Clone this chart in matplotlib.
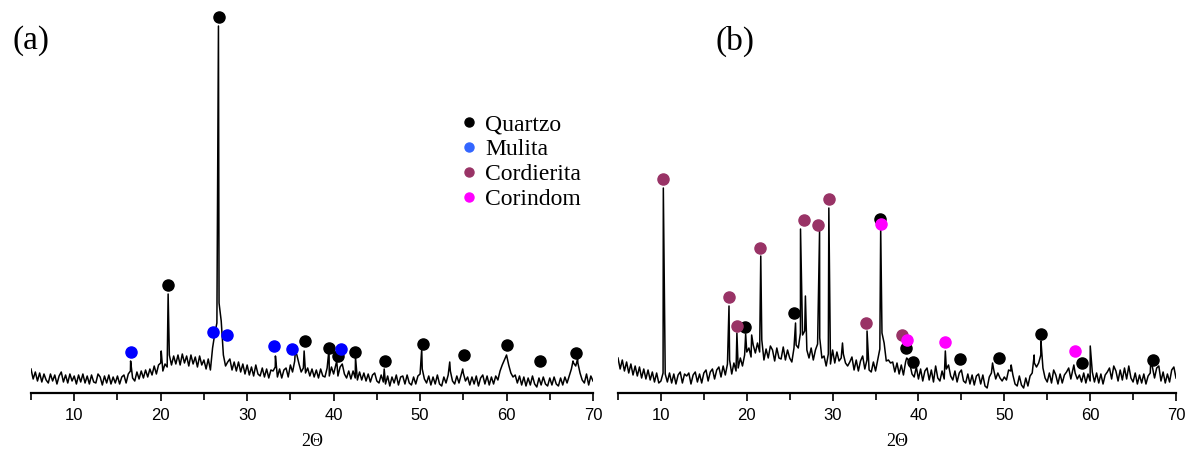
"""XRD patterns (a) and (b) with phase markers."""

import numpy as np
import matplotlib.pyplot as plt
from matplotlib.lines import Line2D
from matplotlib.ticker import MultipleLocator

# scan grid: 2theta from 5 to 70 in 0.25 deg steps, background counts
scan_start, scan_step = 5.0, 0.25

background_a = [
    24, 14, 21, 12,  20, 11, 19, 13,  10, 19, 12, 18,  9, 17, 21, 11,  18, 10, 19, 12,
    17, 9, 18, 11,  19, 10, 17, 9,  18, 11, 10, 19,  16, 8, 17, 10,  18, 9, 16, 10,
    17, 9, 16, 18,  10, 19, 22, 15,  12, 21, 14, 22,  15, 23, 16, 24,  18, 27, 19, 28,
    30, 22, 29, 26,  38, 28, 37, 29,  38, 28, 39, 30,  37, 27, 38, 29,  36, 26, 37, 28,
    33, 24, 34, 23,  45, 59, 70, 90,  72, 38, 27, 31,  34, 23, 31, 22,  31, 21, 29, 19,
    28, 18, 26, 17,  28, 19, 17, 25,  16, 24, 15, 23,  22, 26, 16, 24,  15, 23, 25, 16,
    28, 21, 32, 38,  29, 21, 25, 20,  25, 17, 24, 16,  23, 15, 24, 17,  16, 25, 17, 26,
    19, 28, 17, 26,  29, 19, 15, 22,  14, 22, 15, 13,  21, 13, 20, 12,  19, 11, 18, 20,
    12, 10, 18, 11,  9, 17, 7, 16,  10, 18, 8, 16,  17, 9, 18, 10,  8, 16, 9, 17,
    19, 24, 14, 10,  17, 8, 16, 9,  18, 9, 7, 16,  10, 18, 22, 12,  9, 17, 10, 18,
    20, 12, 16, 8,  16, 9, 17, 7,  15, 18, 9, 17,  8, 16, 9, 17,  13, 22, 28, 33,
    38, 28, 20, 16,  18, 10, 17, 8,  16, 7, 15, 8,  17, 9, 6, 15,  8, 16, 9, 7,
    15, 8, 16, 9,  7, 15, 8, 16,  10, 17, 24, 30,  27, 30, 20, 13,  10, 19, 8, 17,
    12,
]
peak_pos_a = [16.52, 20.06, 20.86, 26.68, 33.27, 35.57, 36.59, 39.47, 40.36, 42.53,
              45.85, 50.19, 53.43, 54.93, 59.94, 67.69, 68.22]
peak_int_a = [32, 42, 99, 367, 37, 42, 42, 44, 32, 36, 24, 44, 31, 24, 37, 32, 34]

background_b = [
    35, 24, 33, 22,  31, 20, 29, 18,  27, 17, 26, 15,  24, 14, 23, 13,  21, 11, 20, 10,
    12, 20, 19, 11,  20, 10, 19, 9,  18, 21, 10, 19,  17, 20, 9, 18,  21, 11, 19, 10,
    20, 23, 12, 21,  24, 14, 23, 26,  16, 27, 18, 29,  33, 19, 30, 22,  25, 35, 27, 38,
    41, 45, 36, 48,  40, 50, 41, 53,  33, 44, 35, 47,  43, 32, 45, 35,  34, 46, 33, 43,
    35, 31, 45, 48,  45, 60, 58, 62,  43, 35, 45, 33,  43, 49, 55, 35,  37, 27, 39, 29,
    43, 30, 41, 32,  35, 39, 30, 27,  31, 36, 23, 33,  22, 32, 37, 24,  33, 23, 21, 31,
    22, 33, 44, 60,  50, 32, 33, 30,  31, 21, 30, 19,  28, 18, 31, 34,  29, 19, 16, 26,
    14, 24, 12, 22,  25, 13, 23, 11,  27, 15, 12, 22,  14, 24, 28, 17,  13, 22, 11, 20,
    23, 12, 10, 19,  9, 18, 8, 17,  19, 9, 18, 7,  5, 16, 20, 24,  14, 20, 15, 12,
    16, 13, 23, 22,  18, 9, 7, 17,  8, 5, 15, 7,  17, 20, 30, 26,  30, 38, 25, 15,
    11, 20, 10, 23,  18, 9, 19, 10,  18, 21, 25, 14,  24, 20, 14, 18,  11, 20, 10, 19,
    12, 21, 11, 20,  10, 19, 9, 18,  21, 25, 14, 27,  22, 12, 23, 13,  25, 14, 27, 15,
    11, 20, 9, 18,  10, 19, 9, 17,  20, 26, 15, 25,  27, 12, 21, 10,  19, 11, 23, 26,
    15,
]
peak_pos_b = [10.28, 17.93, 18.85, 19.87, 20.57, 21.63, 25.68, 26.26, 26.83, 28.48,
              29.56, 31.15, 34.01, 35.60, 38.63, 43.13, 48.63, 50.80, 53.48, 54.27,
              58.10, 60.01, 67.05]
peak_int_b = [205, 87, 60, 59, 58, 137, 70, 164, 97, 162,
              185, 50, 62, 165, 35, 42, 30, 28, 38, 52,
              28, 47, 30]

# phase markers (2theta, height)
quartzo_a_x = [20.86, 26.75, 36.72, 39.47, 40.53, 42.53, 45.94, 50.33, 55.07, 60.03, 63.88, 68.05]
quartzo_a_y = [108, 376, 52, 45, 37, 41, 32, 49, 38, 48, 32, 40]
mulita_a_x = [16.52, 26.05, 27.68, 33.05, 35.13, 40.80]
mulita_a_y = [41, 61, 58, 47, 44, 44]

cordierita_b_x = [10.26, 17.89, 18.81, 21.54, 26.65, 28.28, 29.56, 33.88, 38.06]
cordierita_b_y = [214, 96, 67, 145, 173, 168, 194, 70, 58]
quartzo_b_x = [19.82, 25.51, 35.47, 38.55, 39.34, 44.80, 49.43, 54.23, 59.08, 67.36]
quartzo_b_y = [66, 80, 174, 45, 31, 34, 35, 59, 30, 33]
corindom_b_x = [35.60, 38.63, 43.13, 58.20]
corindom_b_y = [169, 53, 51, 42]

legend_labels = ["Quartzo", "Mulita", "Cordierita", "Corindom"]
legend_colors = ["#000000", "#3366ff", "#993366", "#ff00ff"]


def build_trace(background, peak_pos, peak_int):
    x = list(scan_start + scan_step * np.arange(len(background)))
    y = list(background)
    x += peak_pos
    y += peak_int
    order = np.argsort(x, kind="stable")
    return np.asarray(x)[order], np.asarray(y)[order]


def style_axis(ax):
    ax.set_xlim(5, 70)
    ax.set_ylim(0, 393)
    for side in ("left", "right", "top"):
        ax.spines[side].set_visible(False)
    ax.spines["bottom"].set_linewidth(1.6)
    ax.set_yticks([])
    ax.xaxis.set_major_locator(MultipleLocator(10))
    ax.xaxis.set_minor_locator(MultipleLocator(5))
    ax.tick_params(axis="x", which="major", direction="out", length=6, width=1.2,
                   labelsize=12, pad=5)
    ax.tick_params(axis="x", which="minor", direction="out", length=5, width=1.2)
    for lab in ax.get_xticklabels():
        lab.set_family("Liberation Sans")
    ax.set_xlabel("2\u0398", family="Liberation Serif", fontsize=13, labelpad=7)


fig = plt.figure(figsize=(11.92, 4.5), dpi=100)
ax_a = fig.add_axes([31 / 1192, 57 / 450, 562 / 1192, 393 / 450])
ax_b = fig.add_axes([618 / 1192, 57 / 450, 558 / 1192, 393 / 450])

ms = 8
xa, ya = build_trace(background_a, peak_pos_a, peak_int_a)
ax_a.plot(xa, ya, color="black", lw=1.1)
ax_a.plot(quartzo_a_x, quartzo_a_y, "o", color="black", ms=ms, clip_on=False)
ax_a.plot(mulita_a_x, mulita_a_y, "o", color="#0000ff", ms=ms)
style_axis(ax_a)

handles = [Line2D([], [], ls="none", marker="o", color=c, ms=6.5) for c in legend_colors]
ax_a.legend(handles, legend_labels, loc="upper left", bbox_to_anchor=(0.745, 0.74),
            frameon=False, borderpad=0, handlelength=0.6, handletextpad=0.4,
            labelspacing=0.14, prop={"family": "Liberation Serif", "size": 17})

xb, yb = build_trace(background_b, peak_pos_b, peak_int_b)
ax_b.plot(xb, yb, color="black", lw=1.1)
ax_b.plot(quartzo_b_x, quartzo_b_y, "o", color="black", ms=ms)
ax_b.plot(cordierita_b_x, cordierita_b_y, "o", color="#993366", ms=ms)
ax_b.plot(corindom_b_x, corindom_b_y, "o", color="#ff00ff", ms=ms)
style_axis(ax_b)

fig.text(31 / 1192, 1 - 41 / 450, "(a)", family="Liberation Serif", fontsize=24,
         ha="center", va="center")
fig.text(735 / 1192, 1 - 41 / 450, "(b)", family="Liberation Serif", fontsize=24,
         ha="center", va="center")

fig.savefig("out.png", dpi=100)
plt.close(fig)
